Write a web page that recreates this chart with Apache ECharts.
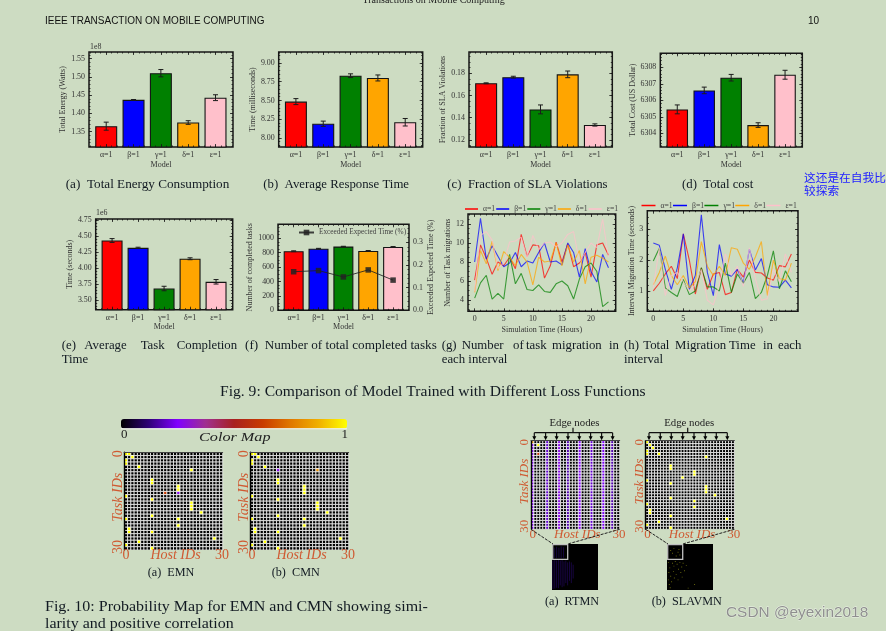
<!DOCTYPE html>
<html>
<head>
<meta charset="utf-8">
<title>Fig. 9 and Fig. 10</title>
<script src="https://cdn.jsdelivr.net/npm/echarts@6/dist/echarts.min.js"></script>
<style>
  html, body { margin: 0; padding: 0; background: #cddcc2; overflow: hidden; }
  #chart { width: 886px; height: 631px; filter: blur(0.35px); }
</style>
</head>
<body>
<div id="chart"></div>
<script>
const modelLabels = ['α=1', 'β=1', 'γ=1', 'δ=1', 'ε=1'];
const modelColors = ['#ff0000', '#0000ff', '#008000', '#ffa500', '#ffc0cb'];
const modelPositions = [0, 1, 2, 3, 4];

const energyValues = [1.365, 1.437, 1.51, 1.375, 1.443];
const energyErrors = [0.011, 0.001, 0.01, 0.005, 0.008];
const energyTicks = [1.35, 1.40, 1.45, 1.50, 1.55];

const responseValues = [8.485, 8.19, 8.83, 8.80, 8.21];
const responseErrors = [0.04, 0.035, 0.025, 0.04, 0.05];
const responseTicks = [8.00, 8.25, 8.50, 8.75, 9.00];

const slaValues = [0.171, 0.1765, 0.1475, 0.179, 0.1335];
const slaErrors = [0.0004, 0.0008, 0.004, 0.003, 0.001];
const slaTicks = [0.12, 0.14, 0.16, 0.18];

const costValues = [6305.45, 6306.6, 6307.37, 6304.5, 6307.55];
const costErrors = [0.27, 0.2, 0.2, 0.14, 0.27];
const costTicks = [6304, 6305, 6306, 6307, 6308];

const completionValues = [4.43, 4.315, 3.68, 4.145, 3.785];
const completionErrors = [0.03, 0.01, 0.035, 0.015, 0.035];
const completionTicks = [3.50, 3.75, 4.00, 4.25, 4.50, 4.75];

const tasksValues = [820, 855, 885, 825, 880];
const tasksErrors = [6, 5, 4, 5, 5];
const tasksTicks = [0, 200, 400, 600, 800, 1000];
const exceededValues = [0.17, 0.175, 0.147, 0.178, 0.133];
const exceededTicks = [0, 0.1, 0.2, 0.3];

const hours = [0, 1, 2, 3, 4, 5, 6, 7, 8, 9, 10, 11, 12, 13, 14, 15, 16, 17, 18, 19, 20, 21, 22, 23];
const hourTicks = [0, 5, 10, 15, 20];

const migrationTicks = [4, 6, 8, 10, 12];
const migrationSeries = [
  [6.1, 9.8, 8.4, 6.7, 8.0, 7.6, 8.5, 7.3, 10.9, 8.6, 9.8, 9.7, 6.3, 7.6, 10.1, 8.0, 9.9, 7.5, 7.9, 9.0, 6.4, 9.8, 10.0, 8.7],
  [8.0, 12.6, 8.3, 9.7, 8.6, 7.5, 7.9, 9.0, 7.5, 8.1, 7.9, 9.0, 10.0, 8.0, 8.1, 7.7, 10.0, 9.0, 6.4, 9.4, 7.0, 5.9, 8.8, 7.4],
  [4.2, 5.8, 6.6, 4.1, 4.7, 4.1, 8.8, 5.7, 6.8, 5.1, 5.0, 5.6, 4.9, 4.8, 5.7, 6.0, 5.5, 4.1, 6.2, 7.5, 7.9, 7.0, 3.3, 3.8],
  [4.8, 9.2, 7.8, 10.2, 7.1, 9.1, 8.5, 7.6, 8.8, 8.0, 5.6, 8.5, 8.0, 8.1, 10.0, 7.6, 9.8, 8.0, 9.2, 5.7, 8.5, 8.7, 8.4, 8.0],
  [4.9, 10.8, 11.2, 10.3, 7.3, 7.9, 10.1, 10.2, 10.6, 8.5, 10.8, 9.3, 10.0, 10.1, 9.6, 10.0, 10.9, 11.2, 8.0, 9.0, 10.0, 9.5, 12.5, 8.5]
];

const migTimeTicks = [1, 2, 3];
const migTimeSeries = [
  [1.0, 1.25, 1.55, 1.8, 1.4, 2.85, 2.0, 0.9, 1.75, 1.05, 1.55, 1.6, 0.88, 0.95, 1.7, 1.45, 2.0, 1.6, 1.58, 1.42, 1.35, 1.82, 1.78, 2.2],
  [2.55, 2.48, 1.7, 1.05, 1.75, 2.85, 1.05, 1.5, 3.47, 1.6, 0.85, 2.5, 1.55, 1.48, 1.7, 1.25, 2.35, 1.68, 2.05, 1.2, 1.13, 1.12, 1.35, 1.1],
  [1.97, 2.38, 1.1, 0.95, 0.82, 1.37, 0.88, 1.0, 1.75, 1.13, 1.13, 1.0, 1.9, 0.95, 1.55, 1.25, 1.6, 0.75, 0.95, 1.5, 2.3, 1.07, 1.65, 1.3],
  [1.2, 1.6, 2.13, 1.5, 1.2, 1.5, 1.1, 1.3, 2.6, 1.8, 1.5, 1.8, 1.5, 2.4, 2.35, 1.9, 1.7, 2.1, 2.6, 0.85, 2.0, 1.4, 1.35, 1.9],
  [1.1, 2.4, 0.85, 1.5, 1.6, 1.3, 1.0, 1.2, 1.7, 0.7, 0.55, 1.2, 2.2, 1.5, 1.8, 1.15, 2.4, 1.4, 0.7, 0.75, 1.7, 1.3, 2.2, 1.6]
];

const colorMap = ['#000000', '#30007a', '#8000ff', '#a03090', '#a82020', '#c83a00', '#e07800', '#f0b000', '#ffff00'];

// [host, task, probability]
const emnCells = [[0,0,1],[1,0,1],[2,1,1],[0,2,1],[0,3,1],[4,4,1],[20,5,1],[8,8,1],[8,9,1],[16,10,1],[16,11,1],[12,12,0.62],[16,12,0.27],[0,13,1],[8,14,0.98],[20,15,1],[20,16,1],[20,17,1],[23,18,1],[8,19,1],[0,20,1],[16,20,1],[16,22,1],[1,23,1],[1,24,1],[8,24,0.98],[4,27,1],[27,26,1],[0,28,1],[8,29,1]];
const cmnCells = [[0,0,1],[1,0,1],[2,1,1],[0,2,1],[0,3,1],[4,4,1],[8,5,0.27],[20,5,0.8],[8,8,1],[8,9,1],[16,10,1],[16,11,1],[16,12,1],[0,13,1],[8,14,0.98],[20,15,1],[20,16,1],[20,17,1],[23,18,1],[8,19,1],[0,20,1],[16,20,1],[16,22,1],[1,23,1],[1,24,1],[8,24,1],[4,27,1],[27,26,1],[0,28,1],[8,29,1]];
const slavmnCells = [[0,0,1],[1,1,1],[2,2,1],[0,3,1],[0,4,1],[4,4,1],[20,5,1],[8,8,1],[8,9,1],[16,10,1],[16,11,1],[12,12,1],[0,13,1],[8,14,1],[20,15,1],[20,16,1],[20,17,1],[23,18,1],[8,19,1],[16,20,1],[0,21,1],[16,22,1],[1,23,1],[1,24,1],[8,25,1],[4,27,1],[27,26,1],[0,28,1],[8,29,1]];
const rtmnHotCells = [[0,0,0.8],[2,1,1],[2,4,0.6]];
// [host, probability] repeated down every task
const rtmnStripes = [[0,0.26],[5,0.2],[9,0.28],[12,0.17],[16,0.26],[20,0.2],[24,0.24],[27,0.17]];

// [x, from, to] of the faint columns in the overview
const rtmnOverview = [[5,8,30],[10,6,31],[15,8,30],[20,5,31],[25,7,30],[2,36,98],[6,35,97],[10,36,95],[14,34,96],[18,36,90],[22,35,94],[26,38,92],[30,36,85],[34,40,90],[38,38,80],[42,40,85],[46,45,75]];
const slavmnOverview = [[8,14],[12,20],[15,10],[20,26],[24,18],[26,12],[28,24],[3,40],[6,52],[4,62],[8,70],[3,78],[5,88],[7,95],[12,42],[15,48],[18,38],[22,44],[25,55],[28,40],[32,50],[14,60],[20,66],[30,62],[10,82],[16,74],[35,42],[38,58],[42,47],[24,78],[33,72],[60,88],[46,96]];

const LABEL_FONT = 'Liberation Serif';
const TEXT_DARK = '#333333';
const FRAME = '#161616';

const grids = [];
const xAxes = [];
const yAxes = [];
const series = [];
const graphics = [];
const heatSeries = [];

function minorTicks(ticks, parts, min, max) {
  const step = (ticks[1] - ticks[0]) / parts;
  const out = [];
  for (let k = Math.ceil((min - ticks[0]) / step); ticks[0] + k * step <= max; k++) {
    out.push(Number((ticks[0] + k * step).toFixed(6)));
  }
  return out;
}

function tickAxis(grid, min, max, position, ticks, length, extra) {
  return Object.assign({
    type: 'value', gridIndex: grid, min, max, position,
    splitLine: { show: false },
    axisLine: { show: false, onZero: false },
    axisLabel: { show: false },
    axisTick: { show: true, inside: true, length, customValues: ticks, lineStyle: { color: FRAME, width: 0.8 } },
    z: 5
  }, extra || {});
}

function nameStyle() {
  return { fontFamily: LABEL_FONT, fontSize: 8, color: TEXT_DARK };
}

function labelStyle(ticks, format, margin) {
  return { show: true, customValues: ticks, formatter: format, margin, fontFamily: LABEL_FONT, fontSize: 7.9, color: TEXT_DARK };
}

function addPanel(p) {
  const g = grids.length;
  grids.push({ show: true, left: p.left, top: p.top, width: p.width, height: p.height, backgroundColor: 'transparent', borderColor: FRAME, borderWidth: 1.5 });
  const xi = xAxes.length;
  const yi = yAxes.length;
  const xMinor = minorTicks(p.xTicks, p.xParts, p.xMin, p.xMax);
  const yMinor = minorTicks(p.yTicks, p.yParts, p.yMin, p.yMax);
  xAxes.push(tickAxis(g, p.xMin, p.xMax, 'bottom', p.xTicks, 3, {
    name: p.xName, nameLocation: 'middle', nameGap: p.xNameGap, nameTextStyle: nameStyle(),
    axisLabel: labelStyle(p.xTicks, p.xFormat, 4)
  }));
  xAxes.push(tickAxis(g, p.xMin, p.xMax, 'bottom', xMinor, 1.5));
  xAxes.push(tickAxis(g, p.xMin, p.xMax, 'top', p.xTicks, 3));
  xAxes.push(tickAxis(g, p.xMin, p.xMax, 'top', xMinor, 1.5));
  yAxes.push(tickAxis(g, p.yMin, p.yMax, 'left', p.yTicks, 3, {
    name: p.yName, nameLocation: 'middle', nameGap: p.yNameGap, nameRotate: 90, nameTextStyle: nameStyle(),
    axisLabel: labelStyle(p.yTicks, p.yFormat, 4)
  }));
  yAxes.push(tickAxis(g, p.yMin, p.yMax, 'left', yMinor, 1.5));
  let rightIndex = -1;
  if (p.right) {
    const r = p.right;
    rightIndex = yAxes.length;
    yAxes.push(tickAxis(g, r.min, r.max, 'right', r.ticks, 3, {
      name: r.name, nameLocation: 'middle', nameGap: r.nameGap, nameRotate: 90, nameTextStyle: nameStyle(),
      axisLabel: labelStyle(r.ticks, r.format, 4)
    }));
    yAxes.push(tickAxis(g, r.min, r.max, 'right', minorTicks(r.ticks, r.parts, r.min, r.max), 1.5));
  } else {
    yAxes.push(tickAxis(g, p.yMin, p.yMax, 'right', p.yTicks, 3));
    yAxes.push(tickAxis(g, p.yMin, p.yMax, 'right', yMinor, 1.5));
  }
  return { xi, yi, rightIndex };
}

function renderError(params, api) {
  const x = api.value(0);
  const low = api.coord([x, api.value(1) - api.value(2)]);
  const high = api.coord([x, api.value(1) + api.value(2)]);
  const style = { stroke: '#1c1c1c', lineWidth: 1, fill: 'none' };
  return {
    type: 'group',
    children: [
      { type: 'line', shape: { x1: low[0], y1: low[1], x2: high[0], y2: high[1] }, style },
      { type: 'line', shape: { x1: low[0] - 2.5, y1: low[1], x2: low[0] + 2.5, y2: low[1] }, style },
      { type: 'line', shape: { x1: high[0] - 2.5, y1: high[1], x2: high[0] + 2.5, y2: high[1] }, style }
    ]
  };
}

function addBars(p, values, errors, barWidth) {
  const idx = addPanel(Object.assign({
    xMin: -0.63, xMax: 4.64, xTicks: modelPositions, xParts: 5,
    xFormat: (v) => modelLabels[v], xName: 'Model'
  }, p));
  series.push({
    type: 'bar', name: 'bars', xAxisIndex: idx.xi, yAxisIndex: idx.yi, barWidth, silent: true,
    data: modelPositions.map((x, i) => ({
      value: [x, values[i]],
      itemStyle: { color: modelColors[i], borderColor: '#141414', borderWidth: 1.1 }
    }))
  });
  series.push({
    type: 'custom', name: 'errors', xAxisIndex: idx.xi, yAxisIndex: idx.yi, silent: true, z: 4,
    renderItem: renderError, encode: { x: 0, y: 1 },
    data: modelPositions.map((x, i) => [x, values[i], errors[i]])
  });
  return idx;
}

function addLines(p, table) {
  const idx = addPanel(Object.assign({
    xTicks: hourTicks, xParts: 5, xFormat: (v) => String(v), xName: 'Simulation Time (Hours)', xNameGap: 14.5
  }, p));
  table.forEach((row, m) => {
    series.push({
      type: 'line', name: modelLabels[m], xAxisIndex: idx.xi, yAxisIndex: idx.yi, symbol: 'none',
      itemStyle: { color: modelColors[m] },
      lineStyle: { color: modelColors[m], width: 1.1, opacity: 0.72 },
      data: hours.map((h, i) => [h, row[i]])
    });
  });
}

function renderCell(params, api) {
  const pos = api.coord([api.value(0), api.value(1)]);
  const size = api.size([1, 1]);
  return {
    type: 'rect',
    shape: { x: pos[0] - size[0] / 2, y: pos[1] - size[1] / 2, width: size[0], height: size[1] },
    style: { fill: api.visual('color'), stroke: '#ffffff', lineWidth: 0.72 }
  };
}

function addHeat(p, cells, stripes) {
  const g = grids.length;
  grids.push({ left: p.left, top: p.top, width: p.width, height: p.height });
  const names = [];
  for (let i = 0; i < 30; i++) names.push(String(i));
  const xi = xAxes.length;
  const yi = yAxes.length;
  const hidden = { axisLabel: { show: false }, axisTick: { show: false }, splitLine: { show: false } };
  xAxes.push(Object.assign({ type: 'category', gridIndex: g, data: names, position: 'top', axisLine: { show: true, onZero: false, lineStyle: { color: '#444', width: 1 } }, z: 5 }, hidden));
  yAxes.push(Object.assign({ type: 'category', gridIndex: g, data: names, inverse: true, position: 'left', axisLine: { show: true, onZero: false, lineStyle: { color: '#000', width: 1.4 } }, z: 5 }, hidden));
  const table = {};
  for (let col = 0; col < 30; col++) {
    for (let row = 0; row < 30; row++) table[col + '_' + row] = 0;
  }
  (stripes || []).forEach(([col, v]) => {
    for (let row = 0; row < 30; row++) table[col + '_' + row] = v;
  });
  cells.forEach(([col, row, v]) => { table[col + '_' + row] = v; });
  const data = [];
  for (const key in table) {
    const [col, row] = key.split('_').map(Number);
    data.push([col, row, table[key]]);
  }
  heatSeries.push(series.length);
  series.push({
    type: 'custom', xAxisIndex: xi, yAxisIndex: yi, silent: true, clip: true,
    renderItem: renderCell, encode: { x: 0, y: 1 },
    data
  });
  heatLabels(p);
}

function text(str, x, y, opts) {
  graphics.push({
    type: 'text', x, y, rotation: (opts && opts.rotation) || 0, scaleX: (opts && opts.scaleX) || 1, silent: true, z: 20,
    style: Object.assign({
      text: str, fontFamily: LABEL_FONT, fontSize: 13, fill: '#141414', textAlign: 'left', textVerticalAlign: 'middle'
    }, opts && opts.style)
  });
}

function heatLabels(p) {
  const size = p.labelSize;
  const base = { fontSize: size, fill: '#cf5a32', textAlign: 'center' };
  const italic = Object.assign({ fontStyle: 'italic' }, base);
  const yText = p.left - 6;
  const yOpts = { rotation: Math.PI / 2 };
  text('0', yText, p.top + 1.5, Object.assign({ style: base }, yOpts));
  text('Task IDs', yText, p.top + p.height * 0.46, Object.assign({ style: italic }, yOpts));
  text('30', yText, p.top + p.height - 3, Object.assign({ style: base }, yOpts));
  const xText = p.top + p.height + 5.5;
  text('0', p.left + 1.7, xText, { style: base });
  text('Host IDs', p.left + p.width / 2 + 2, xText, { style: italic });
  text('30', p.left + p.width - 0.7, xText, { style: base });
}

function edgeBracket(left, top) {
  const arrows = [0, 11.3, 22.3, 33.7, 45, 56.3, 67.3, 78.3];
  const style = { stroke: '#111', lineWidth: 1.2, fill: 'none' };
  const y = top - 8;
  graphics.push({ type: 'polyline', silent: true, z: 20, shape: { points: [[left + 3.3, y], [left + 81.6, y]] }, style });
  graphics.push({ type: 'polyline', silent: true, z: 20, shape: { points: [[left + 42, y - 5], [left + 42, y]] }, style });
  arrows.forEach((a) => {
    const x = left + 3.3 + a;
    graphics.push({ type: 'polyline', silent: true, z: 20, shape: { points: [[x, y], [x, top - 3]] }, style });
    graphics.push({ type: 'polygon', silent: true, z: 20, shape: { points: [[x - 2, top - 4.5], [x + 2, top - 4.5], [x, top - 0.5]] }, style: { fill: '#000' } });
  });
  text('Edge nodes', left + 43.5, top - 17.5, { style: { fontSize: 10.8, textAlign: 'center', fill: '#222' } });
}

function overviewGrid(left, top) {
  const g = grids.length;
  grids.push({ show: true, left, top, width: 46, height: 46, backgroundColor: '#000', borderWidth: 0 });
  const xi = xAxes.length;
  const yi = yAxes.length;
  xAxes.push({ type: 'value', gridIndex: g, min: 0, max: 100, show: false });
  yAxes.push({ type: 'value', gridIndex: g, min: 0, max: 100, inverse: true, show: false });
  return { xi, yi };
}

function overviewFrame(left, top, panelLeft, panelBottom) {
  graphics.push({ type: 'rect', silent: true, z: 20, shape: { x: left + 0.7, y: top + 0.7, width: 15, height: 14.6 }, style: { fill: 'none', stroke: '#c0c0c0', lineWidth: 1.3 } });
  const style = { stroke: '#222', lineWidth: 1, lineDash: [3, 1.2], fill: 'none' };
  graphics.push({ type: 'polyline', silent: true, z: 20, shape: { points: [[panelLeft, panelBottom], [left + 1, top]] }, style });
  graphics.push({ type: 'polyline', silent: true, z: 20, shape: { points: [[panelLeft + 88.7, panelBottom], [left + 15.7, top]] }, style });
}

const fixed2 = (v) => v.toFixed(2);
const fixed0 = (v) => String(v);

addBars({ left: 89, top: 52, width: 144, height: 95, yMin: 1.308, yMax: 1.568, yTicks: energyTicks, yParts: 5, yFormat: fixed2, yName: 'Total Energy (Watts)', yNameGap: 19.5, xNameGap: 13.5 }, energyValues, energyErrors, 22);
addBars({ left: 278.7, top: 52, width: 144, height: 95, yMin: 7.88, yMax: 9.146, yTicks: responseTicks, yParts: 5, yFormat: fixed2, yName: 'Time (milliseconds)', yNameGap: 19.5, xNameGap: 13.5 }, responseValues, responseErrors, 22);
addBars({ left: 469, top: 52, width: 143.3, height: 95, yMin: 0.1137, yMax: 0.1991, yTicks: slaTicks, yParts: 4, yFormat: fixed2, yName: 'Fraction of SLA Violations', yNameGap: 19.5, xNameGap: 13.5 }, slaValues, slaErrors, 22);
addBars({ left: 660.3, top: 53.3, width: 142, height: 93.7, yMin: 6303.17, yMax: 6308.85, yTicks: costTicks, yParts: 5, yFormat: fixed0, yName: 'Total Cost (US Dollar)', yNameGap: 20.5, xNameGap: 13.5 }, costValues, costErrors, 21.5);
addBars({ left: 95.7, top: 219, width: 137, height: 90.7, yMin: 3.349, yMax: 4.766, yTicks: completionTicks, yParts: 5, yFormat: fixed2, yName: 'Time (seconds)', yNameGap: 18.5, xNameGap: 12 }, completionValues, completionErrors, 21);

const tasksPanel = addBars({
  left: 278, top: 224.3, width: 131, height: 86, yMin: 0, yMax: 1194, yTicks: tasksTicks, yParts: 4, yFormat: fixed0,
  yName: 'Number of completed tasks', yNameGap: 19, xNameGap: 12,
  right: { min: 0, max: 0.379, ticks: exceededTicks, parts: 5, format: (v) => v.toFixed(1), name: 'Exceeded Expected Time (%)', nameGap: 12 }
}, tasksValues, tasksErrors, 20);
series.push({
  type: 'line', name: 'Exceeded Expected Time (%)', xAxisIndex: tasksPanel.xi, yAxisIndex: tasksPanel.rightIndex, z: 6,
  symbol: 'rect', symbolSize: 5.5, itemStyle: { color: '#222', opacity: 0.85 }, lineStyle: { color: '#222', width: 1, opacity: 0.85 },
  data: modelPositions.map((x, i) => [x, exceededValues[i]])
});

addLines({ left: 468, top: 214, width: 147.7, height: 97.3, xMin: -1.146, xMax: 24.24, yMin: 2.81, yMax: 13.05, yTicks: migrationTicks, yParts: 4, yFormat: fixed0, yName: 'Number of Task migrations', yNameGap: 11.5 }, migrationSeries);
addLines({ left: 647.3, top: 210.7, width: 150.7, height: 100.6, xMin: -1, xMax: 24.1, yMin: 0.34, yMax: 3.6, yTicks: migTimeTicks, yParts: 5, yFormat: fixed0, yName: 'Interval Migration Time (seconds)', yNameGap: 9 }, migTimeSeries);

addHeat({ left: 124.3, top: 452.3, width: 98.4, height: 97.7, labelSize: 14 }, emnCells);
addHeat({ left: 250.3, top: 452.3, width: 98.4, height: 97.7, labelSize: 14 }, cmnCells);
addHeat({ left: 531, top: 440.7, width: 88.7, height: 88.6, labelSize: 13 }, rtmnHotCells, rtmnStripes);
addHeat({ left: 645.7, top: 440.7, width: 88.7, height: 88.6, labelSize: 13 }, slavmnCells);
edgeBracket(531, 440.7);
edgeBracket(645.7, 440.7);

const rtmnBox = overviewGrid(552, 544);
series.push({
  type: 'custom', xAxisIndex: rtmnBox.xi, yAxisIndex: rtmnBox.yi, silent: true, encode: { x: 0, y: 1 },
  renderItem: (params, api) => {
    const a = api.coord([api.value(0), api.value(1)]);
    const b = api.coord([api.value(0), api.value(2)]);
    return { type: 'line', shape: { x1: a[0], y1: a[1], x2: b[0], y2: b[1] }, style: { stroke: '#26086a', lineWidth: 0.6 } };
  },
  data: rtmnOverview
});
const slavmnBox = overviewGrid(667, 544);
series.push({
  type: 'scatter', xAxisIndex: slavmnBox.xi, yAxisIndex: slavmnBox.yi, silent: true,
  symbol: 'rect', symbolSize: 0.9, itemStyle: { color: '#8a8a10' },
  data: slavmnOverview
});
overviewFrame(552, 544, 531, 529.3);
overviewFrame(667, 544, 645.7, 529.3);

const SANS = 'Liberation Sans';
const CAPTION = { fontSize: 12.8, fill: '#121a22' };
text('IEEE TRANSACTION ON MOBILE COMPUTING', 45, 21, { style: { fontFamily: SANS, fontSize: 10, fill: '#111' } });
text('10', 808, 21, { style: { fontFamily: SANS, fontSize: 10, fill: '#111' } });
text('Transactions on Mobile Computing', 362.5, 0, { style: { fontSize: 10, fill: '#222' } });
text('1e8', 90, 47, { style: { fontSize: 7.9, fill: TEXT_DARK } });
text('1e6', 96, 213, { style: { fontSize: 7.9, fill: TEXT_DARK } });

text('(a)  Total Energy Consumption', 65.7, 185, { style: CAPTION, scaleX: 1.03 });
text('(b)  Average Response Time', 263.3, 185, { style: CAPTION });
text('(c)  Fraction of SLA Violations', 447.3, 185, { style: CAPTION });
text('(d)  Total cost', 682, 185, { style: CAPTION });
text('这还是在自我比', 804, 178, { style: { fontFamily: 'Noto Sans CJK SC', fontSize: 11.7, fill: '#2222ff' } });
text('较探索', 804, 190.5, { style: { fontFamily: 'Noto Sans CJK SC', fontSize: 11.7, fill: '#2222ff' } });

[['(e)', 61.7], ['Average', 84.3], ['Task', 140.7], ['Completion', 176.7]].forEach(([w, x]) => text(w, x, 346, { style: CAPTION }));
text('Time', 61.7, 360, { style: CAPTION });
text('(f)  Number of total completed tasks', 245, 346, { style: CAPTION, scaleX: 1.03 });
[['(g)', 441.7], ['Number', 461.7], ['of', 513], ['task', 526], ['migration', 552], ['in', 609]].forEach(([w, x]) => text(w, x, 346, { style: CAPTION }));
text('each interval', 441.7, 360, { style: CAPTION });
[['(h)', 624], ['Total', 643.3], ['Migration', 675], ['Time', 729], ['in', 763], ['each', 778]].forEach(([w, x]) => text(w, x, 346, { style: CAPTION }));
text('interval', 624, 360, { style: CAPTION });

text('Fig. 9: Comparison of Model Trained with Different Loss Functions', 220, 392, { style: { fontSize: 15, fill: '#121a22' }, scaleX: 1.04 });
text('Fig. 10: Probability Map for EMN and CMN showing simi-', 45, 607, { style: { fontSize: 15, fill: '#121a22' }, scaleX: 1.066 });
text('larity and positive correlation', 45, 624.5, { style: { fontSize: 15, fill: '#121a22' }, scaleX: 1.066 });

text('0', 121, 435, { style: { fontSize: 13, fill: '#222' } });
text('Color Map', 199, 437, { style: { fontSize: 13.5, fontStyle: 'italic', fill: '#222' }, scaleX: 1.2 });
text('1', 341.5, 435, { style: { fontSize: 13, fill: '#222' } });
text('(a)  EMN', 147.7, 573, { style: { fontSize: 12.2, fill: '#121a22' } });
text('(b)  CMN', 271.7, 573, { style: { fontSize: 12.2, fill: '#121a22' } });
text('(a)  RTMN', 545, 602, { style: { fontSize: 12.2, fill: '#121a22' } });
text('(b)  SLAVMN', 651.7, 602, { style: { fontSize: 12.2, fill: '#121a22' } });
text('CSDN @eyexin2018', 726, 612.7, { style: { fontFamily: SANS, fontSize: 15.4, fill: '#8f8f8f', stroke: 'rgba(255,255,255,0.6)', lineWidth: 0.8 } });
graphics.push({ type: 'polyline', silent: true, z: 20, shape: { points: [[121, 428.8], [347, 428.8]] }, style: { stroke: '#ffffff', lineWidth: 0.8, fill: 'none' } });

function lineLegend(left, top, gap, width) {
  return {
    left, top, padding: 0, itemGap: gap, itemWidth: width, itemHeight: 1.5, icon: 'rect', selectedMode: false,
    data: modelLabels, textStyle: { fontFamily: LABEL_FONT, fontSize: 7.7, color: '#444' }
  };
}

const chart = echarts.init(document.getElementById('chart'), null, { renderer: 'canvas' });
chart.setOption({
  animation: false,
  backgroundColor: '#cddcc2',
  grid: grids,
  xAxis: xAxes,
  yAxis: yAxes,
  series,
  graphic: graphics,
  legend: [
    lineLegend(465, 205, 1, 13),
    lineLegend(641.5, 201.5, 0.3, 14),
    {
      left: 298, top: 229, padding: 0, itemWidth: 15, itemHeight: 7, selectedMode: false,
      data: ['Exceeded Expected Time (%)'],
      textStyle: { fontFamily: LABEL_FONT, fontSize: 7.3, color: '#444' }
    }
  ],
  visualMap: {
    type: 'continuous', min: 0, max: 1, dimension: 2, seriesIndex: heatSeries, orient: 'horizontal',
    left: 121, top: 419, padding: 0, itemWidth: 9.5, itemHeight: 226, calculable: false, hoverLink: false,
    inRange: { color: colorMap }, textStyle: { color: 'transparent', fontSize: 1 }
  }
});
</script>
</body>
</html>
